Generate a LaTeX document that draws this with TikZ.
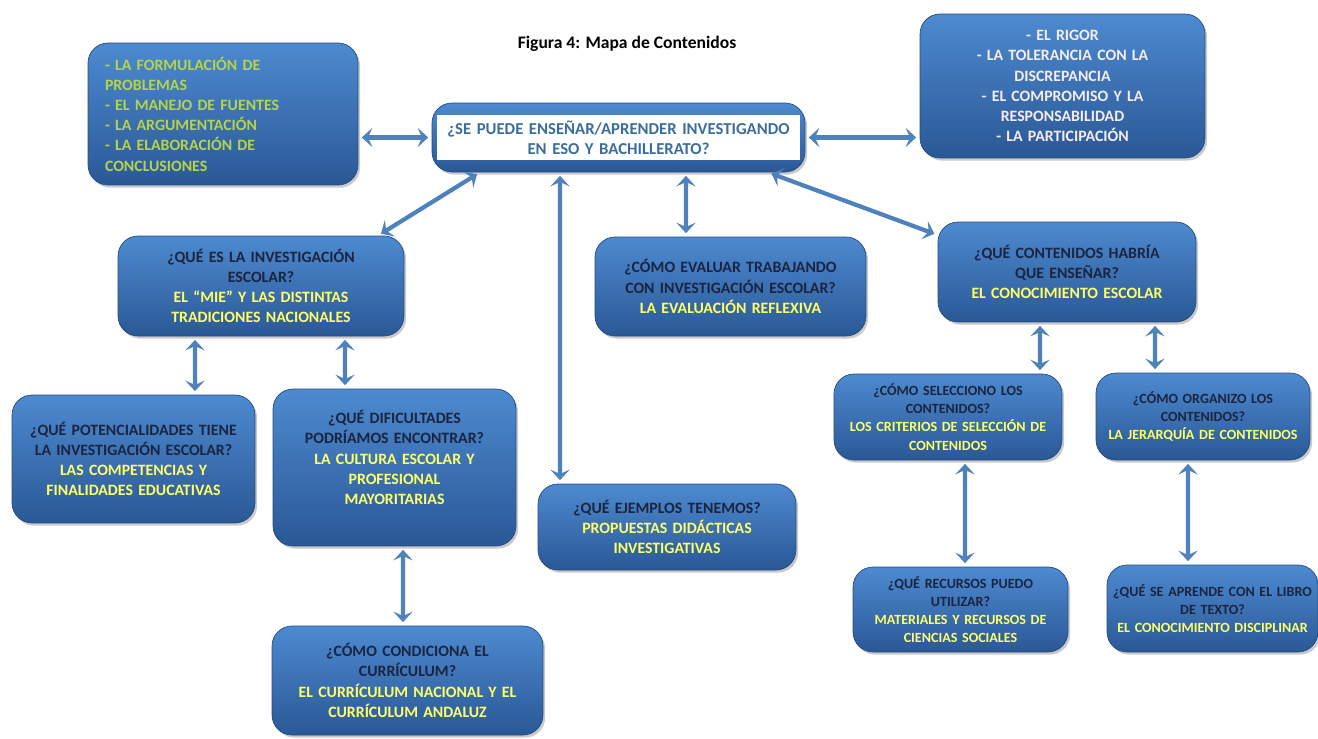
\documentclass[tikz,border=0pt]{standalone}
\usepackage{fontspec}
\setmainfont{Carlito}
\usetikzlibrary{arrows.meta,shadows}
\definecolor{azulclaro}{HTML}{4D8AD0}
\definecolor{azuloscuro}{HTML}{2A5896}
\definecolor{flechaazul}{HTML}{4F81BD}
\definecolor{pregunta}{HTML}{1B2440}
\definecolor{respuesta}{HTML}{FFFF66}
\definecolor{verdelima}{HTML}{B4D449}
\definecolor{rosado}{HTML}{F6ECEC}
\definecolor{textoazul}{HTML}{3B6E9C}

\tikzset{
  caja/.style={rounded corners=0.4cm, top color=azulclaro, bottom color=azuloscuro,
    draw=azuloscuro!85!black, line width=0.4pt, align=center, inner xsep=0pt,
    font=\bfseries\fontsize{9}{11.5}\selectfont,
    drop shadow={shadow xshift=1.2pt, shadow yshift=-1.5pt, opacity=0.35, fill=black!60}},
  cajachica/.style={caja, font=\bfseries\fontsize{8}{10.3}\selectfont},
  flecha/.style={draw=flechaazul, line width=2.4pt,
    {Stealth[length=6pt,width=11pt,inset=2.5pt]}-{Stealth[length=6pt,width=11pt,inset=2.5pt]},
    shorten <=2pt, shorten >=2pt}
}

\begin{document}
\begin{tikzpicture}[x=0.02cm, y=-0.02cm]
  \useasboundingbox (0,0) rectangle (1318,738);
  \node[font=\bfseries\fontsize{10}{12}\selectfont] (titulo) at (627,44) {Figura 4: Mapa de Contenidos};

  \node[caja, align=left, text width=4.72cm, inner xsep=0.34cm, minimum height=2.84cm, text=verdelima] (habilidades) at (223,114)
    {- LA FORMULACIÓN DE\\PROBLEMAS\\- EL MANEJO DE FUENTES\\- LA ARGUMENTACIÓN\\- LA ELABORACIÓN DE\\CONCLUSIONES};
  \node[caja, text width=7.46cm, minimum height=1.38cm] (marco) at (618.5,137.5) {};
  \node[fill=white, text width=7.26cm, minimum height=0.9cm, inner sep=0pt, align=center, text=textoazul,
    font=\bfseries\fontsize{9.5}{11.5}\selectfont] (pregunta) at (618.5,137.5)
    {¿SE PUEDE ENSEÑAR/APRENDER INVESTIGANDO\\EN ESO Y BACHILLERATO?};
  \node[caja, text width=5.7cm, minimum height=2.88cm, text=rosado] (actitudes) at (1062.5,86)
    {- EL RIGOR\\- LA TOLERANCIA CON LA\\DISCREPANCIA\\- EL COMPROMISO Y LA\\RESPONSABILIDAD\\- LA PARTICIPACIÓN};

  \node[caja, text width=5.72cm, minimum height=2cm] (investigacion) at (261,286)
    {\color{pregunta}¿QUÉ ES LA INVESTIGACIÓN\\ESCOLAR?\\\color{respuesta}EL “MIE” Y LAS DISTINTAS\\TRADICIONES NACIONALES};
  \node[caja, text width=5.42cm, minimum height=1.98cm] (evaluar) at (730.5,286.5)
    {\color{pregunta}¿CÓMO EVALUAR TRABAJANDO\\CON INVESTIGACIÓN ESCOLAR?\\\color{respuesta}LA EVALUACIÓN REFLEXIVA};
  \node[caja, text width=5.16cm, minimum height=2cm] (contenidos) at (1067,272)
    {\color{pregunta}¿QUÉ CONTENIDOS HABRÍA\\QUE ENSEÑAR?\\\color{respuesta}EL CONOCIMIENTO ESCOLAR};
  \node[caja, text width=4.86cm, minimum height=2.56cm] (potencialidades) at (133.5,459)
    {\color{pregunta}¿QUÉ POTENCIALIDADES TIENE\\LA INVESTIGACIÓN ESCOLAR?\\\color{respuesta}LAS COMPETENCIAS Y\\FINALIDADES EDUCATIVAS};
  \node[caja, text width=4.86cm, minimum height=3.14cm] (dificultades) at (394.5,467.5)
    {\color{pregunta}¿QUÉ DIFICULTADES\\PODRÍAMOS ENCONTRAR?\\\color{respuesta}LA CULTURA ESCOLAR Y\\PROFESIONAL\\MAYORITARIAS\\\mbox{}};
  \node[caja, text width=5.16cm, minimum height=1.72cm] (ejemplos) at (667,527)
    {\color{pregunta}¿QUÉ EJEMPLOS TENEMOS?\\\color{respuesta}PROPUESTAS DIDÁCTICAS\\INVESTIGATIVAS};
  \node[caja, text width=5.42cm, minimum height=2.18cm] (curriculum) at (407.5,680.5)
    {\color{pregunta}¿CÓMO CONDICIONA EL\\CURRÍCULUM?\\\color{respuesta}EL CURRÍCULUM NACIONAL Y EL\\CURRÍCULUM ANDALUZ};
  \node[cajachica, text width=4.56cm, minimum height=1.72cm] (selecciono) at (948,417)
    {\color{pregunta}¿CÓMO SELECCIONO LOS\\CONTENIDOS?\\\color{respuesta}LOS CRITERIOS DE SELECCIÓN DE\\CONTENIDOS};
  \node[cajachica, text width=4.28cm, minimum height=1.74cm] (organizo) at (1203,416.5)
    {\color{pregunta}¿CÓMO ORGANIZO LOS\\CONTENIDOS?\\\color{respuesta}LA JERARQUÍA DE CONTENIDOS};
  \node[cajachica, text width=4.3cm, minimum height=1.7cm] (recursos) at (960.5,609.5)
    {\color{pregunta}¿QUÉ RECURSOS PUEDO\\UTILIZAR?\\\color{respuesta}MATERIALES Y RECURSOS DE\\CIENCIAS SOCIALES};
  \node[cajachica, text width=4.22cm, minimum height=1.74cm] (libro) at (1212.5,608.5)
    {\color{pregunta}¿QUÉ SE APRENDE CON EL LIBRO\\DE TEXTO?\\\color{respuesta}EL CONOCIMIENTO DISCIPLINAR};

  \draw[flecha] (habilidades.east |- marco.west) -- (marco.west);
  \draw[flecha] (marco.east) -- (actitudes.west |- marco.east);
  \draw[flecha] ([xshift=2.99cm]marco.south) -- ([yshift=0.74cm]contenidos.west);
  \foreach \a/\da/\b/\db in {marco/-2.77/investigacion/2.34, marco/-1.17/ejemplos/-2.14,
      marco/1.35/evaluar/-0.89, investigacion/-1.32/potencialidades/1.23,
      investigacion/1.68/dificultades/-0.99, dificultades/0.17/curriculum/-0.09,
      contenidos/-0.54/selecciono/1.84, contenidos/1.76/organizo/-0.96,
      selecciono/0.34/recursos/0.09, organizo/-0.3/libro/-0.49}{
    \draw[flecha] ([xshift=\da cm]\a.south) -- ([xshift=\db cm]\b.north);
  }
\end{tikzpicture}
\end{document}
